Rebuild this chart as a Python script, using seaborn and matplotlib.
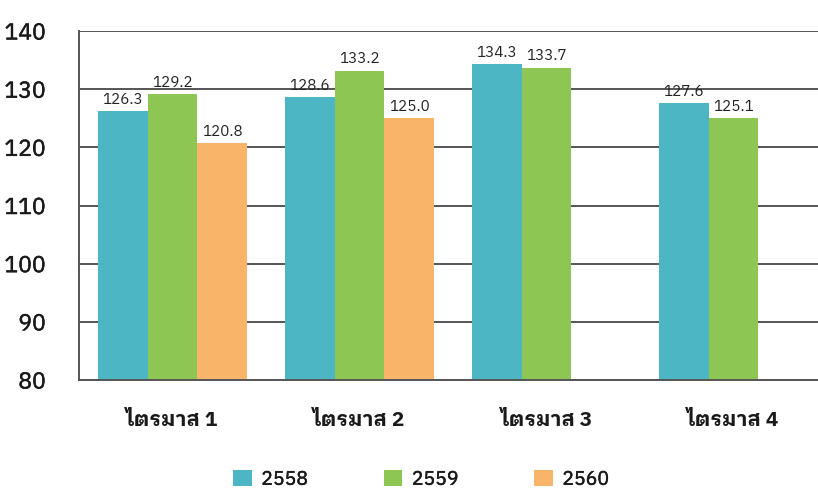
import numpy as np
import pandas as pd
import matplotlib
matplotlib.use("Agg")
import matplotlib.pyplot as plt
import matplotlib.patheffects as pe
import seaborn as sns
from matplotlib import font_manager
from matplotlib.patches import Patch

quarters = ["ไตรมาส 1", "ไตรมาส 2", "ไตรมาส 3", "ไตรมาส 4"]
years = ["2558", "2559", "2560"]
v2558 = [126.3, 128.6, 134.3, 127.6]
v2559 = [129.2, 133.2, 133.7, 125.1]
v2560 = [120.8, 125.0, np.nan, np.nan]
colors = ["#4db6c4", "#8dc653", "#f8b469"]
yticks = [80, 90, 100, 110, 120, 130, 140]

# find a font with Thai glyphs, preferring a looped family with a bold face
thai_font = None
try:
    from fontTools.ttLib import TTFont
    weights = {}
    for f in font_manager.fontManager.ttflist:
        try:
            tt = TTFont(f.fname, fontNumber=0, lazy=True)
            cmap = tt.getBestCmap()
            if cmap and 0x0E44 in cmap and 0x0E23 in cmap:
                w = f.weight if isinstance(f.weight, int) else 400
                weights.setdefault(f.name, set()).add(w)
        except Exception:
            pass
    if weights:
        def score(name):
            s = 0
            if max(weights[name]) >= 600:
                s += 10
            low = name.lower()
            for i, key in enumerate(["tahoma", "leelawadee", "looped", "loma",
                                     "garuda", "noto sans thai"]):
                if key in low:
                    s += 6 - i
                    break
            return s
        thai_font = sorted(weights, key=lambda n: (-score(n), n))[0]
except Exception:
    pass

sns.set_theme(style="white")
fam = ([thai_font] if thai_font else []) + ["DejaVu Sans"]
plt.rcParams["font.family"] = fam

df = pd.DataFrame({
    "quarter": quarters * 3,
    "year": [y for y in years for _ in quarters],
    "value": v2558 + v2559 + v2560,
})

fig = plt.figure(figsize=(8.18, 4.88), dpi=100)
ax = fig.add_axes([79 / 818, 1 - 380 / 488, 1 - 79 / 818, (380 - 31) / 488])
sns.barplot(data=df, x="quarter", y="value", hue="year", order=quarters,
            hue_order=years, palette=colors, width=0.8, ax=ax,
            saturation=1, legend=False, edgecolor="none", linewidth=0)

for cont in ax.containers:
    labels = [("" if np.isnan(v) else f"{v:.1f}") for v in cont.datavalues]
    ax.bar_label(cont, labels=labels, padding=3, fontsize=11, color="#222222")

ax.set_ylim(80, 140)
ax.set_yticks(yticks)
ax.set_xlim(-0.5, (818 - 79) / 187 - 0.5)
ax.set_xlabel("")
ax.set_ylabel("")
ax.yaxis.grid(True, color="#555555", linewidth=1.4)
ax.set_axisbelow(True)
for s in ["top", "right"]:
    ax.spines[s].set_visible(False)
ax.spines["left"].set_color("#555555")
ax.spines["left"].set_linewidth(1.4)
ax.spines["bottom"].set_color("#555555")
ax.spines["bottom"].set_linewidth(1.4)
ax.tick_params(axis="y", length=0, pad=24, labelsize=16.5, labelcolor="#1a1a1a")
ax.tick_params(axis="x", length=0, pad=22, labelsize=15, labelcolor="#1a1a1a")
stroke = [pe.withStroke(linewidth=0.35, foreground="#1a1a1a")]
for t in ax.get_yticklabels():
    t.set_path_effects(stroke)
for t in ax.get_xticklabels():
    t.set_fontweight("bold")

handles = [Patch(facecolor=c, edgecolor="none") for c in colors]
leg = fig.legend(handles, years, loc="center", bbox_to_anchor=(421 / 818, 0.018),
                 ncol=3, frameon=False, handlelength=0.95, handleheight=0.95,
                 columnspacing=3.9, handletextpad=0.5,
                 prop={"size": 14})
for t in leg.get_texts():
    t.set_color("#1a1a1a")
    t.set_path_effects(stroke)

fig.savefig("out.png", dpi=100, facecolor="white")
